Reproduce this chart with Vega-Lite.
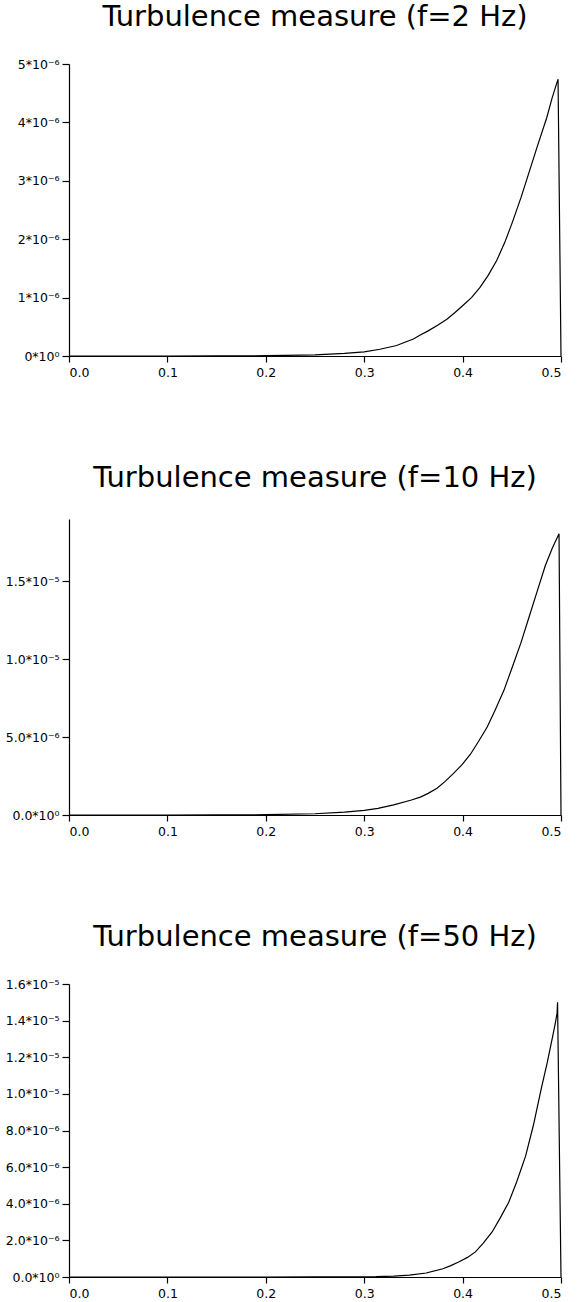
{
  "$schema": "https://vega.github.io/schema/vega-lite/v6.json",
  "padding": {"left": 5, "top": 3, "right": 5, "bottom": 0},
  "spacing": 85,
  "background": "white",
  "config": {
    "view": {"stroke": null},
    "font": "DejaVu Sans",
    "title": {"fontSize": 29, "fontWeight": "normal", "font": "DejaVu Sans", "color": "black", "anchor": "middle", "offset": 26},
    "axis": {
      "grid": false,
      "domainColor": "black",
      "domainWidth": 1.2,
      "tickColor": "black",
      "tickWidth": 1.2,
      "labelColor": "black",
      "labelFont": "DejaVu Sans",
      "labelFontSize": 12.5,
      "title": null
    },
    "axisX": {"labelPadding": 4, "tickSize": 6},
    "axisY": {"labelPadding": 3, "tickSize": 7}
  },
  "vconcat": [
    {
      "title": {"text": "Turbulence measure (f=2 Hz)"},
      "width": 492,
      "height": 292,
      "data": {"values": [
        {"x": 0.0, "turbulence": 0},
        {"x": 0.05, "turbulence": 0},
        {"x": 0.1, "turbulence": 0.0},
        {"x": 0.15, "turbulence": 1e-9},
        {"x": 0.2, "turbulence": 5e-9},
        {"x": 0.22, "turbulence": 1e-8},
        {"x": 0.25, "turbulence": 2e-8},
        {"x": 0.28, "turbulence": 4.5e-8},
        {"x": 0.3, "turbulence": 7e-8},
        {"x": 0.316, "turbulence": 1.15e-7},
        {"x": 0.325, "turbulence": 1.5e-7},
        {"x": 0.333, "turbulence": 1.8e-7},
        {"x": 0.342, "turbulence": 2.4e-7},
        {"x": 0.35, "turbulence": 2.9e-7},
        {"x": 0.357, "turbulence": 3.6e-7},
        {"x": 0.365, "turbulence": 4.3e-7},
        {"x": 0.375, "turbulence": 5.3e-7},
        {"x": 0.384, "turbulence": 6.3e-7},
        {"x": 0.392, "turbulence": 7.4e-7},
        {"x": 0.4, "turbulence": 8.6e-7},
        {"x": 0.409, "turbulence": 1.0e-6},
        {"x": 0.4175, "turbulence": 1.17e-6},
        {"x": 0.426, "turbulence": 1.38e-6},
        {"x": 0.4345, "turbulence": 1.63e-6},
        {"x": 0.443, "turbulence": 1.95e-6},
        {"x": 0.451, "turbulence": 2.31e-6},
        {"x": 0.4595, "turbulence": 2.72e-6},
        {"x": 0.468, "turbulence": 3.17e-6},
        {"x": 0.4765, "turbulence": 3.62e-6},
        {"x": 0.4855, "turbulence": 4.08e-6},
        {"x": 0.491, "turbulence": 4.42e-6},
        {"x": 0.497, "turbulence": 4.74e-6},
        {"x": 0.5, "turbulence": 0}
      ]},
      "mark": {"type": "line", "color": "black", "strokeWidth": 1.2},
      "encoding": {
        "x": {"field": "x", "type": "quantitative", "scale": {"domain": [0, 0.5], "nice": false},
              "axis": {"values": [0, 0.1, 0.2, 0.3, 0.4, 0.5], "format": ".1f"}},
        "y": {"field": "turbulence", "type": "quantitative", "scale": {"domain": [0, 5e-6], "nice": false},
              "axis": {"values": [0, 1e-6, 2e-6, 3e-6, 4e-6, 5e-6],
                       "labelExpr": "datum.value == 0 ? '0*10⁰' : format(datum.value*1e6, '.0f') + '*10⁻⁶'"}}
      }
    },
    {
      "title": {"text": "Turbulence measure (f=10 Hz)"},
      "width": 492,
      "height": 296,
      "data": {"values": [
        {"x": 0.0, "turbulence": 0},
        {"x": 0.05, "turbulence": 0},
        {"x": 0.1, "turbulence": 1e-9},
        {"x": 0.15, "turbulence": 5e-9},
        {"x": 0.2, "turbulence": 2e-8},
        {"x": 0.25, "turbulence": 8e-8},
        {"x": 0.28, "turbulence": 1.8e-7},
        {"x": 0.3, "turbulence": 3e-7},
        {"x": 0.314, "turbulence": 4.3e-7},
        {"x": 0.33, "turbulence": 6.5e-7},
        {"x": 0.348, "turbulence": 9.6e-7},
        {"x": 0.357, "turbulence": 1.15e-6},
        {"x": 0.365, "turbulence": 1.39e-6},
        {"x": 0.374, "turbulence": 1.72e-6},
        {"x": 0.382, "turbulence": 2.14e-6},
        {"x": 0.39, "turbulence": 2.62e-6},
        {"x": 0.399, "turbulence": 3.2e-6},
        {"x": 0.408, "turbulence": 3.9e-6},
        {"x": 0.416, "turbulence": 4.7e-6},
        {"x": 0.425, "turbulence": 5.65e-6},
        {"x": 0.433, "turbulence": 6.73e-6},
        {"x": 0.442, "turbulence": 8.0e-6},
        {"x": 0.45, "turbulence": 9.4e-6},
        {"x": 0.459, "turbulence": 1.1e-5},
        {"x": 0.467, "turbulence": 1.26e-5},
        {"x": 0.476, "turbulence": 1.44e-5},
        {"x": 0.484, "turbulence": 1.6e-5},
        {"x": 0.491, "turbulence": 1.71e-5},
        {"x": 0.498, "turbulence": 1.806e-5},
        {"x": 0.5, "turbulence": 0}
      ]},
      "mark": {"type": "line", "color": "black", "strokeWidth": 1.2},
      "encoding": {
        "x": {"field": "x", "type": "quantitative", "scale": {"domain": [0, 0.5], "nice": false},
              "axis": {"values": [0, 0.1, 0.2, 0.3, 0.4, 0.5], "format": ".1f"}},
        "y": {"field": "turbulence", "type": "quantitative", "scale": {"domain": [0, 1.9e-5], "nice": false},
              "axis": {"values": [0, 5e-6, 1e-5, 1.5e-5],
                       "labelExpr": "datum.value == 0 ? '0.0*10⁰' : datum.value < 9.5e-6 ? format(datum.value*1e6, '.1f') + '*10⁻⁶' : format(datum.value*1e5, '.1f') + '*10⁻⁵'"}}
      }
    },
    {
      "title": {"text": "Turbulence measure (f=50 Hz)"},
      "width": 492,
      "height": 293,
      "data": {"values": [
        {"x": 0.0, "turbulence": 0},
        {"x": 0.1, "turbulence": 0},
        {"x": 0.2, "turbulence": 1e-9},
        {"x": 0.25, "turbulence": 4e-9},
        {"x": 0.28, "turbulence": 1e-8},
        {"x": 0.312, "turbulence": 2e-8},
        {"x": 0.33, "turbulence": 5e-8},
        {"x": 0.346, "turbulence": 1e-7},
        {"x": 0.363, "turbulence": 2.2e-7},
        {"x": 0.38, "turbulence": 4.5e-7},
        {"x": 0.388, "turbulence": 6.2e-7},
        {"x": 0.396, "turbulence": 8.2e-7},
        {"x": 0.405, "turbulence": 1.07e-6},
        {"x": 0.413, "turbulence": 1.37e-6},
        {"x": 0.421, "turbulence": 1.85e-6},
        {"x": 0.43, "turbulence": 2.46e-6},
        {"x": 0.438, "turbulence": 3.2e-6},
        {"x": 0.447, "turbulence": 4.1e-6},
        {"x": 0.455, "turbulence": 5.2e-6},
        {"x": 0.464, "turbulence": 6.6e-6},
        {"x": 0.472, "turbulence": 8.3e-6},
        {"x": 0.48, "turbulence": 1.03e-5},
        {"x": 0.486, "turbulence": 1.17e-5},
        {"x": 0.491, "turbulence": 1.3e-5},
        {"x": 0.494, "turbulence": 1.38e-5},
        {"x": 0.496, "turbulence": 1.44e-5},
        {"x": 0.4965, "turbulence": 1.5e-5},
        {"x": 0.5, "turbulence": 0}
      ]},
      "mark": {"type": "line", "color": "black", "strokeWidth": 1.2},
      "encoding": {
        "x": {"field": "x", "type": "quantitative", "scale": {"domain": [0, 0.5], "nice": false},
              "axis": {"values": [0, 0.1, 0.2, 0.3, 0.4, 0.5], "format": ".1f"}},
        "y": {"field": "turbulence", "type": "quantitative", "scale": {"domain": [0, 1.6e-5], "nice": false},
              "axis": {"values": [0, 2e-6, 4e-6, 6e-6, 8e-6, 1e-5, 1.2e-5, 1.4e-5, 1.6e-5],
                       "labelExpr": "datum.value == 0 ? '0.0*10⁰' : datum.value < 9.5e-6 ? format(datum.value*1e6, '.1f') + '*10⁻⁶' : format(datum.value*1e5, '.1f') + '*10⁻⁵'"}}
      }
    }
  ]
}
